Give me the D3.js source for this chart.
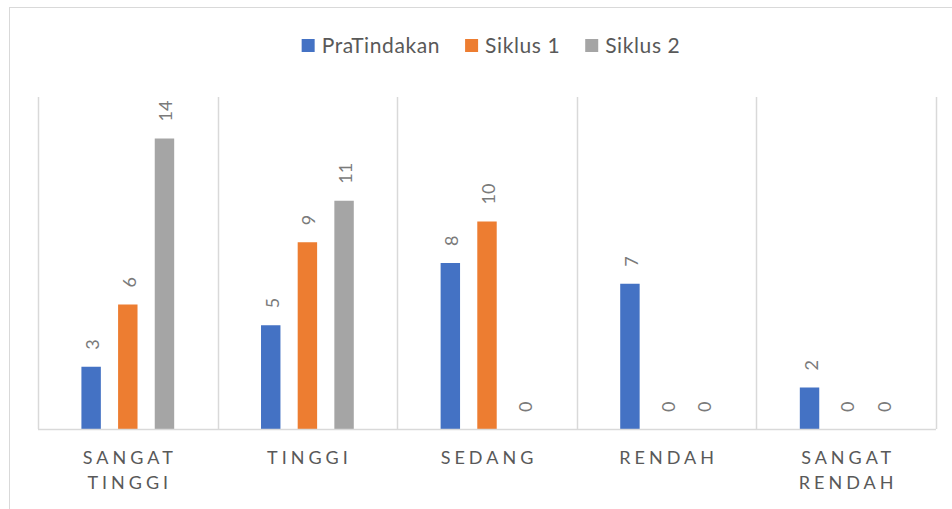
<!DOCTYPE html>
<html>
<head>
<meta charset="utf-8">
<script src="https://cdn.jsdelivr.net/npm/d3@7/dist/d3.min.js"></script>
<style>
  body { margin: 0; background: #fff; }
  svg { display: block; font-family: Lato, "Open Sans", sans-serif; }
</style>
</head>
<body>
<svg id="chart" width="952" height="509"></svg>
<script>
// data
var categories = ["SANGAT TINGGI", "TINGGI", "SEDANG", "RENDAH", "SANGAT RENDAH"];
var seriesNames = ["PraTindakan", "Siklus 1", "Siklus 2"];
var praTindakan = [3, 5, 8, 7, 2];
var siklus1 = [6, 9, 10, 0, 0];
var siklus2 = [14, 11, 0, 0, 0];
var colors = ["#4472C4", "#ED7D31", "#A5A5A5"];

var seriesValues = [praTindakan, siklus1, siklus2];

var svg = d3.select("#chart");
var plot = { left: 38, right: 936, top: 97, bottom: 429 };

// chart border (right and bottom edges are cut off in the picture)
svg.append("rect")
  .attr("x", 9.5).attr("y", 7.5)
  .attr("width", 980).attr("height", 540)
  .attr("fill", "none")
  .attr("stroke", "#d9d9d9");

var x0 = d3.scaleBand().domain(categories).range([plot.left, plot.right]).padding(0);
var x1 = d3.scaleBand().domain(seriesNames).range([-55, 55]).paddingInner(0.47).paddingOuter(0.235);
var y = d3.scaleLinear().domain([0, 16]).range([plot.bottom, plot.top]);

// vertical gridlines on category boundaries
var bounds = categories.map(function (c) { return x0(c); }).concat([x0(categories[categories.length - 1]) + x0.bandwidth()]);
svg.append("g").selectAll("line")
  .data(bounds)
  .enter().append("line")
  .attr("x1", function (d) { return Math.round(d) + 0.5; })
  .attr("x2", function (d) { return Math.round(d) + 0.5; })
  .attr("y1", y(16))
  .attr("y2", y(0))
  .attr("stroke", "#d9d9d9")
  .attr("stroke-width", 1.5);

// bars
var rows = [];
categories.forEach(function (c, i) {
  seriesNames.forEach(function (s, j) {
    rows.push({ cat: c, series: s, value: seriesValues[j][i], color: colors[j] });
  });
});

var groups = svg.append("g");
groups.selectAll("rect")
  .data(rows)
  .enter().append("rect")
  .attr("x", function (d) { return x0(d.cat) + x0.bandwidth() / 2 + x1(d.series); })
  .attr("y", function (d) { return y(d.value); })
  .attr("width", x1.bandwidth())
  .attr("height", function (d) { return y(0) - y(d.value); })
  .attr("fill", function (d) { return d.color; });

// data labels, rotated
groups.selectAll("text")
  .data(rows)
  .enter().append("text")
  .attr("transform", function (d) {
    var cx = x0(d.cat) + x0.bandwidth() / 2 + x1(d.series) + x1.bandwidth() / 2 + 1;
    return "translate(" + cx + "," + (y(d.value) - 17) + ") rotate(-90)";
  })
  .attr("dominant-baseline", "central")
  .attr("font-size", 18)
  .attr("fill", "#7a7a7a")
  .text(function (d) { return d.value; });

// baseline axis
svg.append("line")
  .attr("x1", plot.left).attr("x2", plot.right)
  .attr("y1", y(0) + 0.5).attr("y2", y(0) + 0.5)
  .attr("stroke", "#d9d9d9")
  .attr("stroke-width", 1.5);

// category labels
var catLabels = svg.append("g").selectAll("text")
  .data(categories)
  .enter().append("text")
  .attr("text-anchor", "middle")
  .attr("font-size", 18)
  .attr("letter-spacing", 4)
  .attr("fill", "#595959");

catLabels.each(function (c) {
  var t = d3.select(this);
  var cx = x0(c) + x0.bandwidth() / 2 + 2;
  c.split(" ").forEach(function (w, k) {
    t.append("tspan").attr("x", cx).attr("y", 464 + k * 25).text(w);
  });
});

// legend
var legend = svg.append("g");
var items = legend.selectAll("g")
  .data(seriesNames)
  .enter().append("g");
items.append("rect")
  .attr("width", 13).attr("height", 13)
  .attr("y", 39)
  .attr("fill", function (d, i) { return colors[i]; });
items.append("text")
  .attr("x", 20).attr("y", 53)
  .attr("font-size", 21)
  .attr("letter-spacing", 0.6)
  .attr("fill", "#595959")
  .text(function (d) { return d; });

var widths = [];
items.select("text").each(function () { widths.push(this.getComputedTextLength() + 20); });
var gap = 25;
var total = d3.sum(widths) + gap * (widths.length - 1);
var lx = 491 - total / 2;
items.attr("transform", function (d, i) {
  var x = lx;
  lx += widths[i] + gap;
  return "translate(" + x + ",0)";
});
</script>
</body>
</html>
